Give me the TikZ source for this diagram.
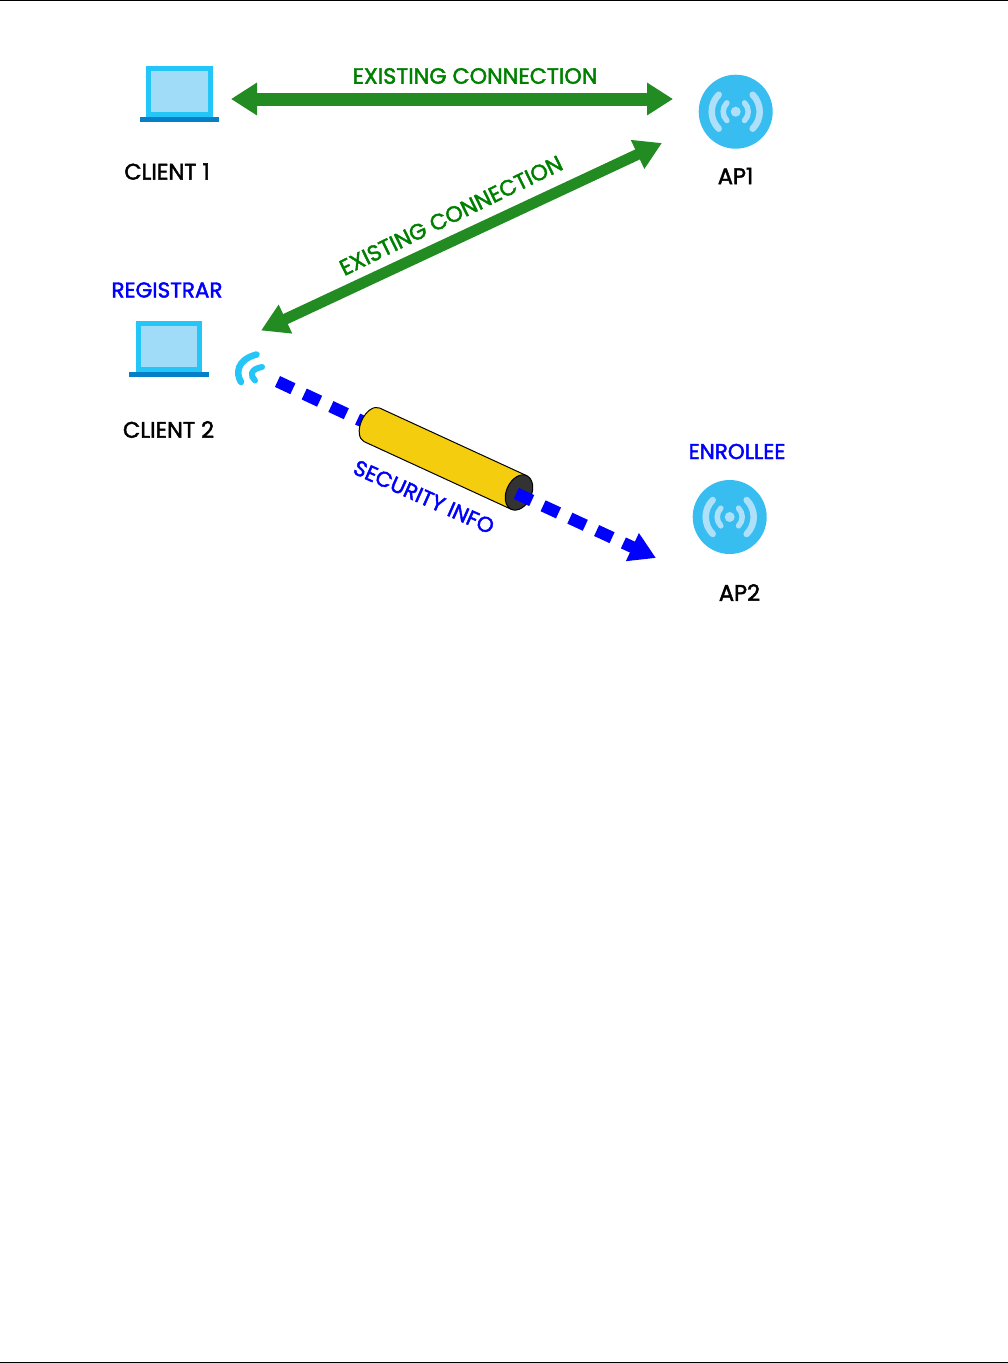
\documentclass[tikz,border=0pt]{standalone}
\usepackage{fontspec}
\setmainfont{Poppins}[FakeBold=2]
\usetikzlibrary{arrows.meta}
\definecolor{linkGreen}{HTML}{228B22}
\definecolor{labelGreen}{HTML}{008000}
\definecolor{infoBlue}{HTML}{0000FF}
\definecolor{frameBlue}{HTML}{24C5F7}
\definecolor{screenBlue}{HTML}{A0DBF8}
\definecolor{baseBlue}{HTML}{0580C8}
\definecolor{apBlue}{HTML}{38BDF0}
\definecolor{waveBlue}{HTML}{AEE0FA}
\definecolor{tunnelYellow}{HTML}{F4CD0E}
\definecolor{tunnelDark}{HTML}{333333}
\newcommand{\laptopIcon}[2]{
  \node[laptop] (#1) at #2 {};
  \node[laptopbase] (#1-base) at ([yshift=-28pt]#1) {};
}
\newcommand{\apIcon}[2]{
  \node[apdisc] (#1) at #2 {};
  \node[apdot] (#1-dot) at (#1) {};
  \draw[apwave, line width=6.5pt] ([shift={(135:24pt)}]#1) arc[start angle=135, end angle=225, radius=24pt];
  \draw[apwave, line width=6.5pt] ([shift={(45:24pt)}]#1) arc[start angle=45, end angle=-45, radius=24pt];
  \draw[apwave, line width=5.5pt] ([shift={(135:12.5pt)}]#1) arc[start angle=135, end angle=225, radius=12.5pt];
  \draw[apwave, line width=5.5pt] ([shift={(45:12.5pt)}]#1) arc[start angle=45, end angle=-45, radius=12.5pt];
}
\tikzset{
  laptop/.style={draw=frameBlue, fill=screenBlue, line width=5pt, minimum width=61.5pt, minimum height=46pt, inner sep=0pt, outer sep=0pt},
  laptopbase/.style={fill=baseBlue, minimum width=79.5pt, minimum height=5pt, inner sep=0pt, outer sep=0pt},
  apdisc/.style={circle, fill=apBlue, minimum size=74pt, inner sep=0pt, outer sep=0pt},
  apdot/.style={circle, fill=waveBlue, minimum size=10pt, inner sep=0pt, outer sep=0pt},
  apwave/.style={draw=waveBlue, line cap=round},
  pagerule/.style={fill=black, minimum width=1008pt, minimum height=1.4pt, inner sep=0pt, outer sep=0pt},
  devlabel/.style={font=\fontsize{22.5}{26}\selectfont, text=black, inner sep=0pt},
  rolelabel/.style={font=\fontsize{21.5}{26}\selectfont, text=infoBlue, inner sep=0pt},
  linklabel/.style={font=\fontsize{22.2}{26}\selectfont, text=labelGreen, inner sep=0pt},
  existlink/.style={draw=linkGreen, line width=#1},
  infolink/.style={draw=infoBlue, line width=12pt, dash pattern=on 17pt off 12.5pt},
}
\begin{document}
\begin{tikzpicture}[x=1pt, y=-1pt]
  \useasboundingbox (0,0) rectangle (1008,1363);
  \node[pagerule] (topRule) at (504,0.7) {};
  \node[pagerule] (bottomRule) at (504,1362.3) {};

  % devices
  \laptopIcon{client1}{(179.5,91.5)}
  \laptopIcon{client2}{(169,346.5)}
  \apIcon{ap1}{(735.7,111.7)}
  \apIcon{ap2}{(729.7,517)}

  % labels
  \node[devlabel] (client1-label) at (167,171.5) {CLIENT 1};
  \node[devlabel] (client2-label) at (168.5,429.5) {CLIENT 2};
  \node[devlabel] (ap1-label) at (735.5,176) {AP1};
  \node[devlabel] (ap2-label) at (739.5,592.5) {AP2};
  \node[rolelabel] (registrar-label) at (167,290) {REGISTRAR};
  \node[rolelabel] (enrollee-label) at (737,451.5) {ENROLLEE};
  \node[linklabel] (link1-label) at (475,76) {EXISTING CONNECTION};
  \node[linklabel, rotate=26] (link2-label) at (451,215.5) {EXISTING CONNECTION};
  \node[rolelabel, rotate=-24] (info-label) at (424,497) {SECURITY INFO};

  % wifi waves
  \draw[frameBlue, line width=6.5pt, line cap=round] (256.5,354.5) .. controls (236,360) and (236,374) .. (241,382);
  \draw[frameBlue, line width=6pt, line cap=round] (262,367) .. controls (250,369) and (250,376) .. (255,380.5);

  % connections
  \coordinate (link1-a) at (231,99);
  \coordinate (link1-b) at (673,99);
  \coordinate (link2-a) at (261,330.5);
  \coordinate (link2-b) at (662,143);
  \coordinate (info-a) at (277.5,381.5);
  \coordinate (info-b) at (516.3,493.4);
  \coordinate (info-c) at (656,558);
  \draw[existlink=13pt, {Triangle[width=31pt,length=26pt]}-{Triangle[width=31pt,length=26pt]}] (link1-a) -- (link1-b);
  \draw[existlink=11pt, {Triangle[width=30pt,length=27pt]}-{Triangle[width=30pt,length=27pt]}] (link2-a) -- (link2-b);
  \draw[infolink] (info-a) -- (info-b);

  % tunnel
  \begin{scope}[shift={(519,492.5)}, rotate=-24.7, line width=1pt]
    \draw[fill=tunnelYellow] (0,18.5) -- (-162,18.5) arc[start angle=90, end angle=270, x radius=11, y radius=18.5] -- (0,-18.5) -- cycle;
    \draw[fill=tunnelDark] (0,0) ellipse[x radius=12.5, y radius=18.5];
  \end{scope}
  \draw[infolink, -{Triangle[width=29pt,length=26pt]}] (info-b) -- (info-c);
\end{tikzpicture}
\end{document}
